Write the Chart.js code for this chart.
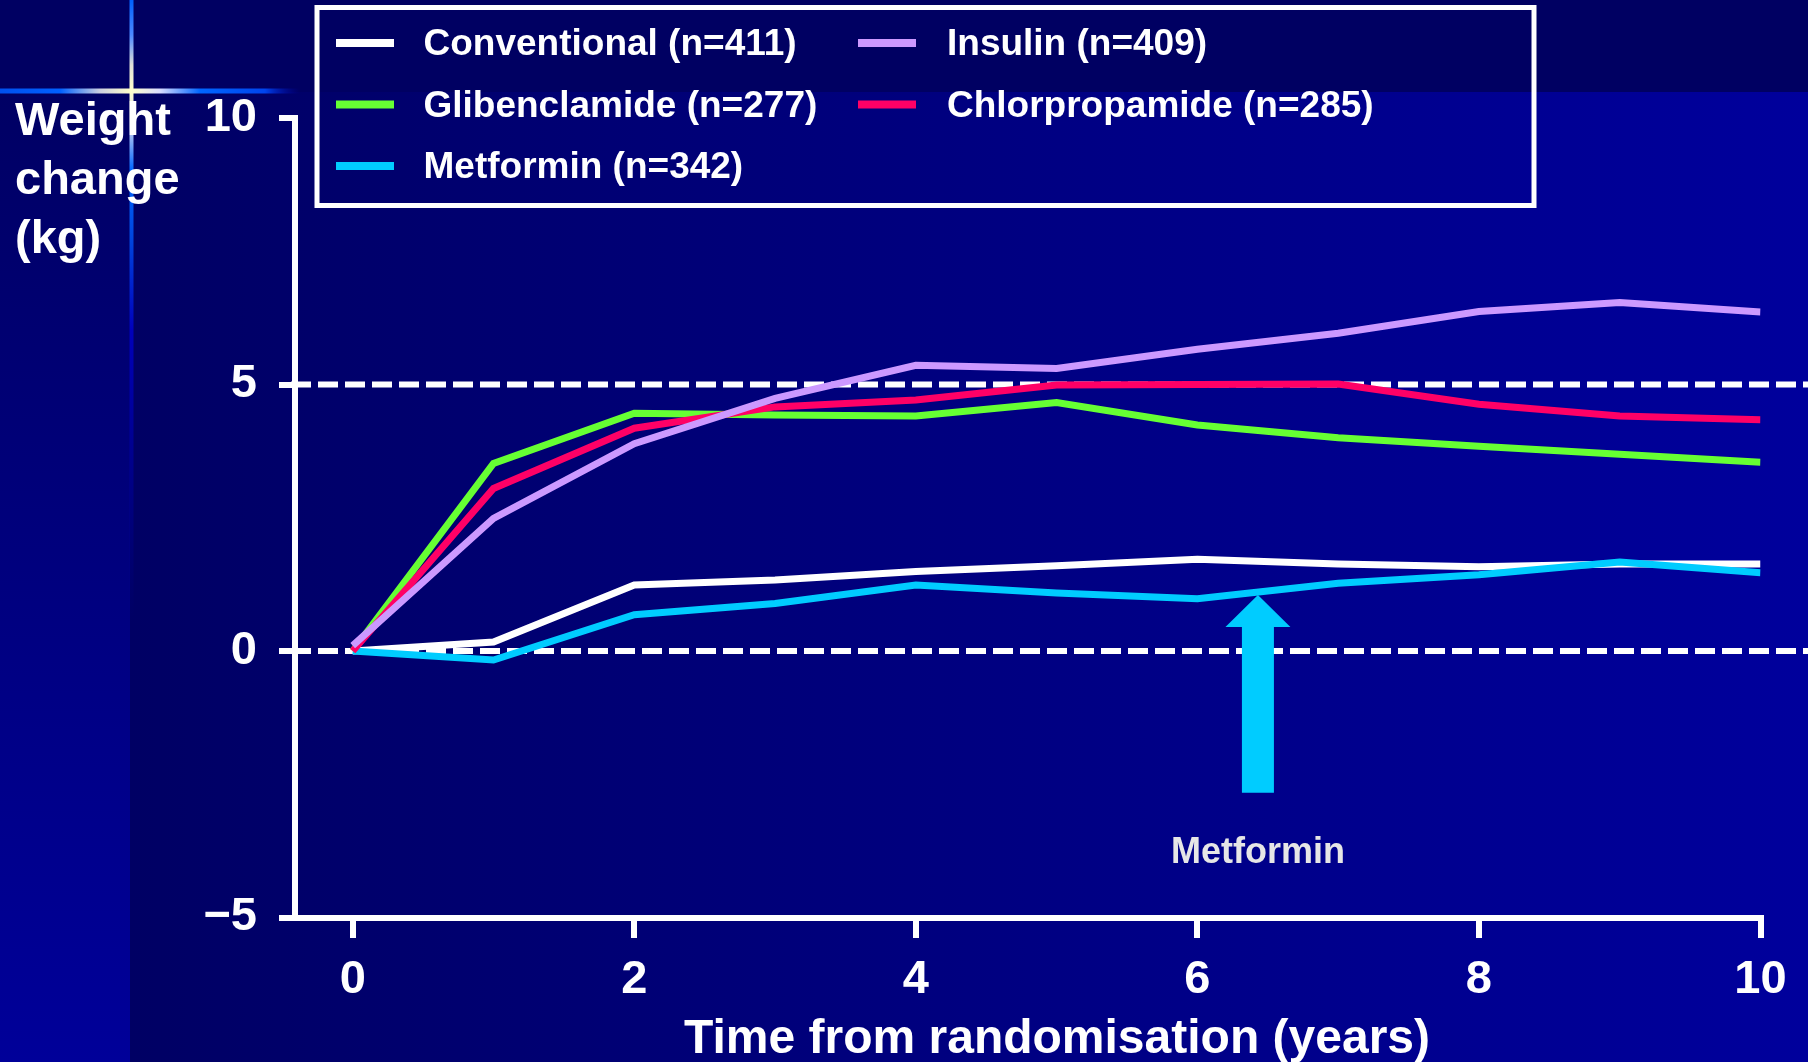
<!DOCTYPE html>
<html><head><meta charset="utf-8">
<script src="https://cdn.jsdelivr.net/npm/chart.js@4.4.1/dist/chart.umd.min.js"></script>
<style>html,body{margin:0;padding:0;background:#000066;overflow:hidden}canvas{display:block}</style>
</head><body>
<canvas id="c" width="1808" height="1062"></canvas>
<script>
// ---- data ----
const years = [0, 1, 2, 3, 4, 5, 6, 7, 8, 9, 10];
const conventional   = [0, 0.17, 1.24, 1.33, 1.49, 1.60, 1.72, 1.63, 1.58, 1.63, 1.63];
const glibenclamide  = [0, 3.52, 4.46, 4.43, 4.41, 4.66, 4.24, 4.00, 3.84, 3.69, 3.54];
const metformin      = [0, -0.17, 0.68, 0.89, 1.24, 1.09, 0.98, 1.27, 1.43, 1.67, 1.47];
const insulin        = [0.1, 2.49, 3.89, 4.74, 5.36, 5.30, 5.66, 5.96, 6.37, 6.54, 6.36];
const chlorpropamide = [0, 3.05, 4.18, 4.58, 4.71, 4.99, 5.00, 5.01, 4.63, 4.41, 4.34];
const seriesLabels = ['Conventional (n=411)', 'Glibenclamide (n=277)', 'Metformin (n=342)', 'Insulin (n=409)', 'Chlorpropamide (n=285)'];
const xTickValues = [0, 2, 4, 6, 8, 10];
const yTickValues = [-5, 0, 5, 10];
const refLineValues = [0, 5];
const yTitleLines = ['Weight', 'change', '(kg)'];
const xTitleText = 'Time from randomisation (years)';
const arrowLabel = 'Metformin';
const arrowX = 6.43, arrowTipY = 1.05, arrowHeadBaseY = 0.45, arrowBottomY = -2.66, arrowLabelY = -3.80;

// ---- styles ----
const seriesValues = [conventional, glibenclamide, metformin, insulin, chlorpropamide];
const seriesColors = ['#ffffff', '#66ff33', '#00ccff', '#cc99ff', '#ff0066'];
const seriesOrder = [5, 3, 4, 1, 2];
const FONT = '"Liberation Sans", Arial, Helvetica, sans-serif';
Chart.defaults.font.family = FONT;

const bgPlugin = {
  id: 'bg',
  beforeDraw(chart) {
    const {ctx, width: W, height: H} = chart;
    ctx.save();
    let g = ctx.createLinearGradient(130, 0, W, 0);
    g.addColorStop(0, '#000064'); g.addColorStop(1, '#00009c');
    ctx.fillStyle = g; ctx.fillRect(0, 0, W, H);
    g = ctx.createLinearGradient(0, 92, 0, H);
    g.addColorStop(0, '#000064'); g.addColorStop(1, '#000099');
    ctx.fillStyle = g; ctx.fillRect(0, 92, 130, H - 92);
    ctx.fillStyle = '#000062'; ctx.fillRect(0, 0, W, 92);
    // flare vertical
    g = ctx.createLinearGradient(0, 0, 0, 620);
    g.addColorStop(0, '#0060ff');
    g.addColorStop(35 / 620, '#4d88ff');
    g.addColorStop(65 / 620, '#e0e0d8');
    g.addColorStop(90 / 620, '#ffffcc');
    g.addColorStop(125 / 620, '#d0d4f0');
    g.addColorStop(170 / 620, '#0066ff');
    g.addColorStop(240 / 620, '#0044dd');
    g.addColorStop(330 / 620, '#0000bb');
    g.addColorStop(1, 'rgba(0,0,153,0)');
    ctx.fillStyle = g; ctx.fillRect(129.5, 0, 4, 620);
    // flare horizontal
    g = ctx.createLinearGradient(0, 0, 300, 0);
    g.addColorStop(0, '#0050ee');
    g.addColorStop(60 / 300, '#0060ff');
    g.addColorStop(100 / 300, '#ccd0e0');
    g.addColorStop(131 / 300, '#ffffcc');
    g.addColorStop(160 / 300, '#d8dcff');
    g.addColorStop(200 / 300, '#0066ff');
    g.addColorStop(265 / 300, '#0044ee');
    g.addColorStop(1, 'rgba(0,0,170,0)');
    ctx.fillStyle = g; ctx.fillRect(0, 88.5, 300, 5);
    ctx.restore();
  }
};

const refPlugin = {
  id: 'refs',
  beforeDatasetsDraw(chart) {
    const {ctx, chartArea, width: W} = chart;
    const ys = chart.scales.y;
    ctx.save();
    ctx.strokeStyle = '#ffffff'; ctx.lineWidth = 6; ctx.setLineDash([20, 7]);
    refLineValues.forEach(v => {
      const y = ys.getPixelForValue(v);
      ctx.beginPath(); ctx.moveTo(chartArea.left - 4, y); ctx.lineTo(W, y); ctx.stroke();
    });
    ctx.restore();
  }
};

const overlayPlugin = {
  id: 'overlay',
  afterDraw(chart) {
    const {ctx} = chart;
    const xs = chart.scales.x, ys = chart.scales.y;
    ctx.save();
    // arrow annotation
    const cx = xs.getPixelForValue(arrowX);
    const tip = ys.getPixelForValue(arrowTipY), base = ys.getPixelForValue(arrowHeadBaseY), bot = ys.getPixelForValue(arrowBottomY);
    ctx.fillStyle = '#00ccff';
    ctx.beginPath();
    ctx.moveTo(cx, tip); ctx.lineTo(cx + 32.5, base); ctx.lineTo(cx + 16, base); ctx.lineTo(cx + 16, bot);
    ctx.lineTo(cx - 16, bot); ctx.lineTo(cx - 16, base); ctx.lineTo(cx - 32.5, base); ctx.closePath(); ctx.fill();
    ctx.fillStyle = '#e6e6e6'; ctx.font = 'bold 36px ' + FONT; ctx.textAlign = 'center'; ctx.textBaseline = 'middle';
    ctx.fillText(arrowLabel, cx, ys.getPixelForValue(arrowLabelY));
    // legend
    ctx.strokeStyle = '#ffffff'; ctx.lineWidth = 5;
    ctx.strokeRect(317, 7.5, 1217, 198);
    const colSwatch = [336, 858], colText = [423.5, 947], rowY = [43, 104.5, 166];
    const layout = [[0, 0], [0, 1], [0, 2], [1, 0], [1, 1]];
    ctx.font = 'bold 37px ' + FONT; ctx.textAlign = 'left'; ctx.textBaseline = 'alphabetic';
    chart.data.datasets.forEach((ds, i) => {
      const [c, r] = layout[i];
      ctx.fillStyle = ds.borderColor;
      ctx.fillRect(colSwatch[c], rowY[r] - 4, 58, 8);
      ctx.fillStyle = '#ffffff';
      ctx.fillText(ds.label, colText[c], rowY[r] + 12);
    });
    // axis titles
    ctx.font = 'bold 47px ' + FONT; ctx.fillStyle = '#ffffff'; ctx.textAlign = 'left';
    yTitleLines.forEach((t, i) => ctx.fillText(t, 15, 135 + i * 59));
    ctx.font = 'bold 48px ' + FONT; ctx.textAlign = 'center';
    ctx.fillText(xTitleText, 1057, 1053);
    ctx.restore();
  }
};

const datasets = seriesValues.map((vals, i) => ({
  label: seriesLabels[i],
  data: years.map((x, j) => ({x: x, y: vals[j]})),
  borderColor: seriesColors[i],
  backgroundColor: seriesColors[i],
  borderWidth: 7,
  pointRadius: 0,
  tension: 0,
  fill: false,
  order: seriesOrder[i]
}));

new Chart(document.getElementById('c'), {
  type: 'line',
  data: {datasets},
  options: {
    responsive: false,
    animation: false,
    devicePixelRatio: 1,
    layout: {padding: {left: 0, top: 118, right: 47.5, bottom: 0}},
    plugins: {legend: {display: false}, tooltip: {enabled: false}},
    scales: {
      x: {
        type: 'linear', min: -0.41, max: 10,
        afterBuildTicks: s => { s.ticks = xTickValues.map(v => ({value: v})); },
        afterFit: s => { s.height = 144.5; },
        ticks: {color: '#ffffff', font: {size: 47, weight: 'bold'}, padding: 14, maxRotation: 0, autoSkip: false},
        grid: {drawOnChartArea: false, drawTicks: true, tickLength: 20.5, lineWidth: 6, tickWidth: 6, color: '#ffffff', tickColor: '#ffffff'},
        border: {display: true, color: '#ffffff', width: 6}
      },
      y: {
        type: 'linear', min: -5, max: 10,
        afterBuildTicks: s => { s.ticks = yTickValues.map(v => ({value: v})); },
        afterFit: s => { s.width = 295; },
        ticks: {color: '#ffffff', font: {size: 47, weight: 'bold'}, padding: 22,
                callback: v => v < 0 ? '\u2212' + Math.abs(v) : String(v)},
        grid: {drawOnChartArea: false, drawTicks: true, tickLength: 16, lineWidth: 6, tickWidth: 6, color: '#ffffff', tickColor: '#ffffff'},
        border: {display: true, color: '#ffffff', width: 6}
      }
    }
  },
  plugins: [bgPlugin, refPlugin, overlayPlugin]
});
</script>
</body></html>
